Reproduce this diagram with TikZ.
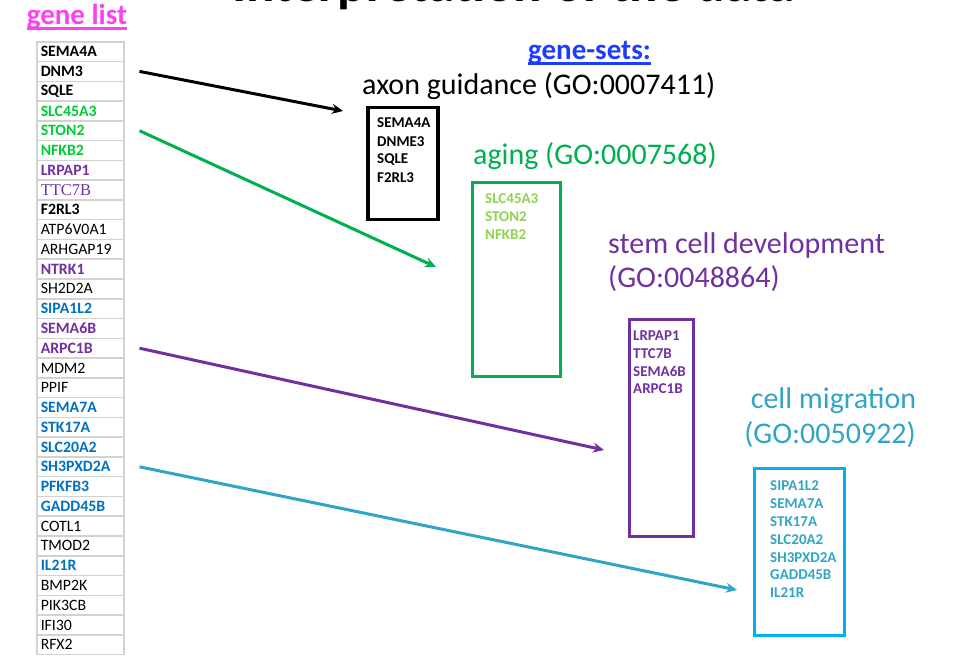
\documentclass[tikz,border=0pt]{standalone}
\usepackage{fontspec}
\setmainfont{Carlito}
\newfontfamily\geneserif{Liberation Serif}
\usetikzlibrary{arrows.meta}

\definecolor{setgreen}{RGB}{0,176,80}
\definecolor{listgreen}{RGB}{0,204,51}
\definecolor{agelime}{RGB}{146,208,80}
\definecolor{stempurple}{RGB}{112,48,160}
\definecolor{listblue}{RGB}{0,112,192}
\definecolor{migcyan}{RGB}{0,176,240}
\definecolor{migteal}{RGB}{49,165,197}
\definecolor{headpink}{RGB}{255,64,240}
\definecolor{setsblue}{RGB}{30,60,255}
\definecolor{cellgray}{RGB}{210,210,210}

\newcommand{\ulhead}[1]{\setbox0\hbox{#1}\rlap{\rule[-0.2em]{\wd0}{0.08em}}\box0}

\begin{document}
\begin{tikzpicture}[x=1pt,y=1pt,yscale=-1,xscale=1,
    genecell/.style={draw=cellgray,line width=1.5,minimum width=87,minimum height=19.77,inner sep=4,text width=79,align=left,anchor=north west},
    kb/.style={font=\fontsize{15.8}{18}\selectfont\bfseries},
    kn/.style={font=\fontsize{15.8}{18}\selectfont},
    kg/.style={font=\fontsize{15.8}{18}\selectfont\bfseries,text=listgreen},
    kp/.style={font=\fontsize{15.8}{18}\selectfont\bfseries,text=stempurple},
    ks/.style={font=\fontsize{16.5}{18}\selectfont\geneserif,text=stempurple},
    kc/.style={font=\fontsize{15.8}{18}\selectfont\bfseries,text=listblue},
    setbox/.style={draw=#1,line width=3.5,anchor=north west,inner sep=0},
    setgene/.style={anchor=west,inner sep=0,font=\fontsize{15}{17}\selectfont\bfseries},
    setlabel/.style={inner sep=0,font=\fontsize{30}{35}\selectfont},
    linkarrow/.style={line width=3,draw=#1,-{Stealth[length=11pt,width=10pt]}}]
        \useasboundingbox (0,0) rectangle (956,659);

        % Title (cut by the page top)
        \node [inner sep=0,anchor=base west,font=\fontsize{53}{60}\selectfont\bfseries] (title) at (232,1.5) {Interpretation of the data};

        % Headings
        \node [inner sep=0,anchor=base,text=headpink,font=\fontsize{29}{35}\selectfont\bfseries] (listhead) at (77,24) {\ulhead{gene list}};
        \node [inner sep=0,anchor=base,text=setsblue,font=\fontsize{29}{35}\selectfont\bfseries] (setshead) at (589.5,59) {\ulhead{gene-sets:}};

        % Gene list table
        \foreach \gname/\gkind [count=\i] in {SEMA4A/kb,DNM3/kb,SQLE/kb,SLC45A3/kg,STON2/kg,NFKB2/kg,LRPAP1/kp,TTC7B/ks,F2RL3/kb,ATP6V0A1/kn,ARHGAP19/kn,NTRK1/kp,SH2D2A/kn,SIPA1L2/kc,SEMA6B/kp,ARPC1B/kp,MDM2/kn,PPIF/kn,SEMA7A/kc,STK17A/kc,SLC20A2/kc,SH3PXD2A/kc,PFKFB3/kc,GADD45B/kc,COTL1/kn,TMOD2/kn,IL21R/kc,BMP2K/kn,PIK3CB/kn,IFI30/kn,RFX2/kn}
            \node [genecell,\gkind] (g\i) at (36,{41+(\i-1)*19.77}) {\gname};

        % Set: axon guidance
        \node [setlabel,anchor=base west] (axonlbl) at (362,94) {axon guidance (GO:0007411)};
        \node [setbox=black,minimum width=70,minimum height=112] (axon) at (366,105.5) {};
        \foreach \gname [count=\i] in {SEMA4A,DNME3,SQLE,F2RL3}
            \node [setgene] (ax\i) at (377,{123+(\i-1)*18.2}) {\gname};

        % Set: aging
        \node [setlabel,anchor=base west,text=setgreen] (aginglbl) at (473,164) {aging (GO:0007568)};
        \node [setbox=setgreen,minimum width=88,minimum height=194] (aging) at (470.5,180.5) {};
        \foreach \gname [count=\i] in {SLC45A3,STON2,NFKB2}
            \node [setgene,text=agelime] (ag\i) at (485,{199+(\i-1)*17.6}) {\gname};

        % Set: stem cell development
        \node [setlabel,anchor=base west,text=stempurple] (stemlbl) at (608,253) {stem cell development};
        \node [setlabel,anchor=base west,text=stempurple] (stemgo) at (608,287) {(GO:0048864)};
        \node [setbox=stempurple,minimum width=64,minimum height=217] (stem) at (627.5,317.5) {};
        \foreach \gname [count=\i] in {LRPAP1,TTC7B,SEMA6B,ARPC1B}
            \node [setgene,text=stempurple] (st\i) at (633,{336+(\i-1)*17.7}) {\gname};

        % Set: cell migration
        \node [setlabel,anchor=base,text=migteal] (miglbl) at (833.5,408) {cell migration};
        \node [setlabel,anchor=base,text=migteal] (miggo) at (830,443) {(GO:0050922)};
        \node [setbox=migcyan,minimum width=90,minimum height=167] (mig) at (752.5,466.5) {};
        \foreach \gname [count=\i] in {SIPA1L2,SEMA7A,STK17A,SLC20A2,SH3PXD2A,GADD45B,IL21R}
            \node [setgene,text=migteal] (mg\i) at (770,{486+(\i-1)*17.8}) {\gname};

        % Arrows from the list to the sets
        \coordinate (axonend) at (343,111);
        \coordinate (agingend) at (436,267);
        \coordinate (stemend) at (604,450);
        \coordinate (migend) at (737,590);
        \draw [linkarrow=black] ([xshift=15]g2.east) -- (axonend);
        \draw [linkarrow=setgreen] ([xshift=15]g5.east) -- (agingend);
        \draw [linkarrow=stempurple] ([xshift=15]g16.east) -- (stemend);
        \draw [linkarrow=migteal] ([xshift=15]g22.east) -- (migend);

    \end{tikzpicture}
\end{document}
